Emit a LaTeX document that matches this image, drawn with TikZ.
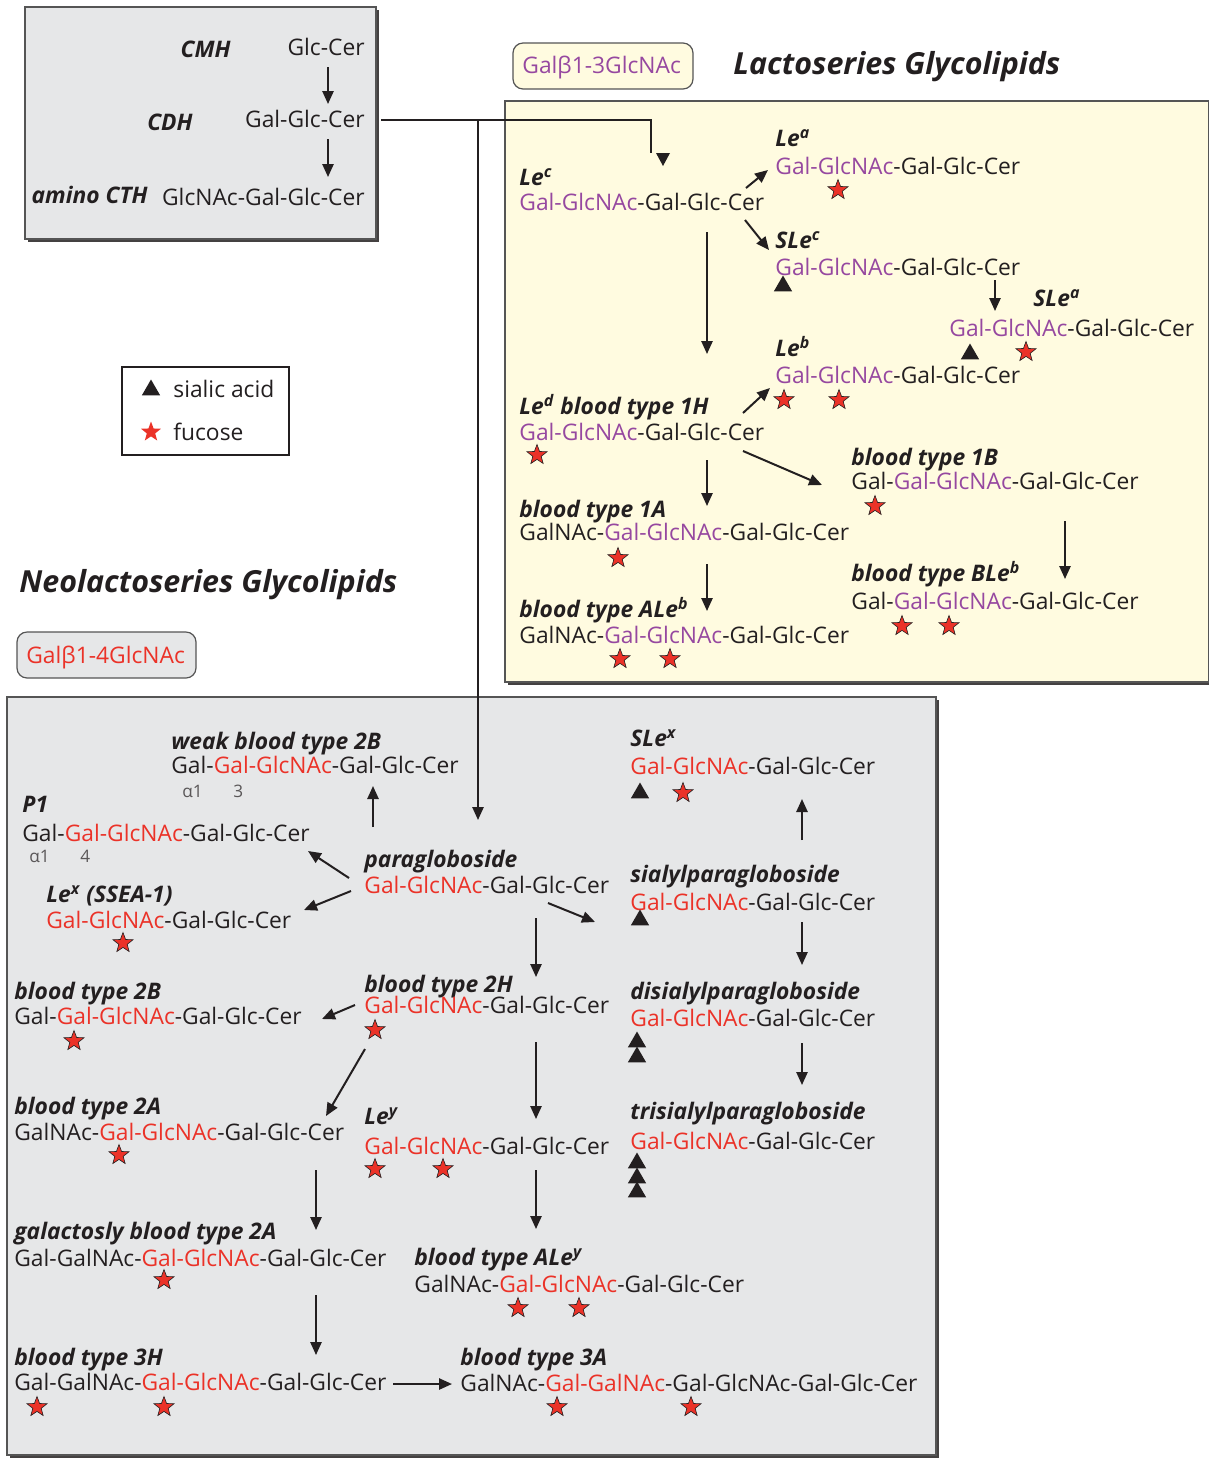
\documentclass[tikz,border=0pt]{standalone}
\usepackage{fontspec}
\setmainfont{Open Sans}
\usetikzlibrary{arrows.meta,shapes.geometric}
\definecolor{lpurple}{RGB}{150,72,160}
\definecolor{nred}{RGB}{235,50,40}
\definecolor{lyellow}{RGB}{255,251,224}
\definecolor{lgrey}{RGB}{230,231,232}
\definecolor{ink}{RGB}{35,31,32}
\definecolor{boxline}{RGB}{85,85,85}
\newcommand{\colP}[1]{\textcolor{lpurple}{#1}}
\newcommand{\colR}[1]{\textcolor{nred}{#1}}
\newcommand{\arw}[3]{\coordinate (#1s) at (#2); \coordinate (#1e) at (#3); \draw[arr] (#1s) -- (#1e);}
\begin{document}
\begin{tikzpicture}[x=0.5pt,y=-0.5pt,
  chain/.style={anchor=base west, yshift=-4pt, inner sep=0pt, text=ink, font=\fontsize{11.4}{13}\selectfont},
  chainr/.style={chain, anchor=base east},
  lbl/.style={chain, font=\fontsize{11.4}{13}\selectfont\bfseries\itshape},
  lblr/.style={lbl, anchor=base east},
  ttl/.style={anchor=base west, yshift=-5.4pt, inner sep=0pt, text=ink, font=\fontsize{15.2}{18}\selectfont\bfseries\itshape},
  lnk/.style={anchor=base west, yshift=-3pt, inner sep=0pt, text=ink!75, font=\fontsize{8.6}{10}\selectfont},
  arr/.style={draw=ink, line width=1pt, -{Triangle[length=6.5pt,width=5.6pt]}},
  fuc/.style={star, star points=5, star point ratio=2.4, fill=nred, draw=ink, line width=0.3pt, minimum size=10.5pt, inner sep=0pt},
  sia/.style={regular polygon, regular polygon sides=3, fill=ink, minimum size=10.5pt, inner sep=0pt},
  shadowbox/.style={fill=ink!85},
  panel/.style={draw=boxline, line width=0.6pt}
]
\useasboundingbox (0,0) rectangle (1209,1458);

% ---------- top-left box ----------
\fill[shadowbox] (28,10) rectangle (379,242);
\filldraw[panel, fill=lgrey] (25,7) rectangle (376,239);
\node[lblr] (cmh) at (231,49) {CMH};
\node[chainr] (glccer) at (365,47) {Glc-Cer};
\node[lblr] (cdh) at (193,122) {CDH};
\node[chainr] (galglccer) at (365,119) {Gal-Glc-Cer};
\node[lblr] (acth) at (148,195) {amino CTH};
\node[chainr] (amcth) at (365,197) {GlcNAc-Gal-Glc-Cer};
\arw{t1}{328,67}{328,104}
\arw{t2}{328,139}{328,177}

% ---------- lactoseries ----------
\draw[panel, fill=lyellow, rounded corners=5pt] (513,43) rectangle (693,89);
\node[chain, text=lpurple] (lacgal) at (522,65) {Galβ1-3GlcNAc};
\node[ttl] (lacttl) at (733,64) {Lactoseries Glycolipids};

\fill[shadowbox] (508,104) rectangle (1212,685);
\filldraw[panel, fill=lyellow] (505,101) rectangle (1209,682);

\node[lbl] (lecl) at (519,177) {Le\textsuperscript{c}};
\node[chain] (lec) at (519,202) {\colP{Gal-GlcNAc}-Gal-Glc-Cer};
\node[lbl] (leal) at (775,138) {Le\textsuperscript{a}};
\node[chain] (lea) at (775,166) {\colP{Gal-GlcNAc}-Gal-Glc-Cer};
\node[fuc] (f1) at (838,190) {};
\node[lbl] (slecl) at (775,240) {SLe\textsuperscript{c}};
\node[chain] (slec) at (775,267) {\colP{Gal-GlcNAc}-Gal-Glc-Cer};
\node[sia] (s1) at (783,286) {};
\node[lbl] (sleal) at (1033,298) {SLe\textsuperscript{a}};
\node[chain] (slea) at (949,328) {\colP{Gal-GlcNAc}-Gal-Glc-Cer};
\node[sia] (s2) at (970,354) {};
\node[fuc] (f2) at (1026,352) {};
\node[lbl] (lebl) at (775,348) {Le\textsuperscript{b}};
\node[chain] (leb) at (775,375) {\colP{Gal-GlcNAc}-Gal-Glc-Cer};
\node[fuc] (f3) at (784,400) {};
\node[fuc] (f4) at (839,400) {};
\node[lbl] (ledl) at (519,406) {Le\textsuperscript{d} blood type 1H};
\node[chain] (led) at (519,432) {\colP{Gal-GlcNAc}-Gal-Glc-Cer};
\node[fuc] (f5) at (537,455) {};
\node[lbl] (b1bl) at (851,457) {blood type 1B};
\node[chain] (b1b) at (851,481) {Gal-\colP{Gal-GlcNAc}-Gal-Glc-Cer};
\node[fuc] (f6) at (875,506) {};
\node[lbl] (b1al) at (519,509) {blood type 1A};
\node[chain] (b1a) at (519,532) {GalNAc-\colP{Gal-GlcNAc}-Gal-Glc-Cer};
\node[fuc] (f7) at (618,558) {};
\node[lbl] (aleb_l) at (519,609) {blood type ALe\textsuperscript{b}};
\node[chain] (aleb) at (519,635) {GalNAc-\colP{Gal-GlcNAc}-Gal-Glc-Cer};
\node[fuc] (f8) at (620,659) {};
\node[fuc] (f9) at (670,659) {};
\node[lbl] (bleb_l) at (851,573) {blood type BLe\textsuperscript{b}};
\node[chain] (bleb) at (851,601) {Gal-\colP{Gal-GlcNAc}-Gal-Glc-Cer};
\node[fuc] (f10) at (902,626) {};
\node[fuc] (f11) at (949,626) {};

\arw{l1}{746,188}{768,170}
\arw{l2}{745,220}{769,250}
\arw{l3}{995,280}{995,311}
\arw{l4}{707,232}{707,354}
\arw{l5}{743,413}{770,388}
\arw{l6}{743,451}{822,485}
\arw{l7}{707,460}{707,506}
\arw{l8}{707,564}{707,611}
\arw{l9}{1065,521}{1065,579}

% ---------- legend ----------
\filldraw[draw=ink, line width=0.8pt, fill=white] (122,367) rectangle (289,455);
\node[sia] (legs) at (151,390) {};
\node[chain] (legst) at (173,389) {sialic acid};
\node[fuc, draw=none] (legf) at (151,432) {};
\node[chain] (legft) at (173,432) {fucose};

% ---------- neolactoseries ----------
\node[ttl] (neottl) at (19,582) {Neolactoseries Glycolipids};
\draw[panel, fill=lgrey, rounded corners=5pt] (17,632) rectangle (196,678);
\node[chain, text=nred] (neogal) at (26,655) {Galβ1-4GlcNAc};

\fill[shadowbox] (10,700) rectangle (939,1458);
\filldraw[panel, fill=lgrey] (7,697) rectangle (936,1455);

\node[lbl] (w2bl) at (171,741) {weak blood type 2B};
\node[chain] (w2b) at (171,765) {Gal-\colR{Gal-GlcNAc}-Gal-Glc-Cer};
\node[lnk] (w2ba) at (182,791) {α1};
\node[lnk] (w2bb) at (233,791) {3};
\node[lbl] (p1l) at (22,804) {P1};
\node[chain] (p1) at (22,833) {Gal-\colR{Gal-GlcNAc}-Gal-Glc-Cer};
\node[lnk] (p1a) at (29,856) {α1};
\node[lnk] (p1b) at (80,856) {4};
\node[lbl] (lexl) at (46,894) {Le\textsuperscript{x} (SSEA-1)};
\node[chain] (lex) at (46,920) {\colR{Gal-GlcNAc}-Gal-Glc-Cer};
\node[fuc] (g1) at (123,943) {};
\node[lbl] (pgl) at (364,859) {paragloboside};
\node[chain] (pg) at (364,885) {\colR{Gal-GlcNAc}-Gal-Glc-Cer};
\node[lbl] (slexl) at (630,738) {SLe\textsuperscript{x}};
\node[chain] (slex) at (630,766) {\colR{Gal-GlcNAc}-Gal-Glc-Cer};
\node[sia] (t1) at (640,793) {};
\node[fuc] (g2) at (683,793) {};
\node[lbl] (spgl) at (630,874) {sialylparagloboside};
\node[chain] (spg) at (630,902) {\colR{Gal-GlcNAc}-Gal-Glc-Cer};
\node[sia] (t2) at (640,920) {};
\node[lbl] (dspgl) at (630,991) {disialylparagloboside};
\node[chain] (dspg) at (630,1018) {\colR{Gal-GlcNAc}-Gal-Glc-Cer};
\node[sia] (t3) at (637,1042) {};
\node[sia] (t4) at (637,1057) {};
\node[lbl] (tspgl) at (630,1111) {trisialylparagloboside};
\node[chain] (tspg) at (630,1141) {\colR{Gal-GlcNAc}-Gal-Glc-Cer};
\node[sia] (t5) at (637,1163) {};
\node[sia] (t6) at (637,1178) {};
\node[sia] (t7) at (637,1192) {};
\node[lbl] (b2hl) at (364,984) {blood type 2H};
\node[chain] (b2h) at (364,1005) {\colR{Gal-GlcNAc}-Gal-Glc-Cer};
\node[fuc] (g3) at (375,1030) {};
\node[lbl] (b2bl) at (14,991) {blood type 2B};
\node[chain] (b2b) at (14,1016) {Gal-\colR{Gal-GlcNAc}-Gal-Glc-Cer};
\node[fuc] (g4) at (74,1041) {};
\node[lbl] (b2al) at (14,1106) {blood type 2A};
\node[chain] (b2a) at (14,1132) {GalNAc-\colR{Gal-GlcNAc}-Gal-Glc-Cer};
\node[fuc] (g5) at (119,1155) {};
\node[lbl] (leyl) at (364,1116) {Le\textsuperscript{y}};
\node[chain] (ley) at (364,1146) {\colR{Gal-GlcNAc}-Gal-Glc-Cer};
\node[fuc] (g6) at (375,1169) {};
\node[fuc] (g7) at (443,1169) {};
\node[lbl] (g2al) at (14,1231) {galactosly blood type 2A};
\node[chain] (g2a) at (14,1258) {Gal-GalNAc-\colR{Gal-GlcNAc}-Gal-Glc-Cer};
\node[fuc] (g8) at (164,1280) {};
\node[lbl] (aleyl) at (414,1257) {blood type ALe\textsuperscript{y}};
\node[chain] (aley) at (414,1284) {GalNAc-\colR{Gal-GlcNAc}-Gal-Glc-Cer};
\node[fuc] (g9) at (518,1308) {};
\node[fuc] (g10) at (579,1308) {};
\node[lbl] (b3hl) at (14,1357) {blood type 3H};
\node[chain] (b3h) at (14,1382) {Gal-GalNAc-\colR{Gal-GlcNAc}-Gal-Glc-Cer};
\node[fuc] (g11) at (37,1407) {};
\node[fuc] (g12) at (164,1407) {};
\node[lbl] (b3al) at (460,1357) {blood type 3A};
\node[chain] (b3a) at (460,1383) {GalNAc-\colR{Gal-GalNAc}-Gal-GlcNAc-Gal-Glc-Cer};
\node[fuc] (g13) at (557,1407) {};
\node[fuc] (g14) at (691,1407) {};

\arw{n1}{373,827}{373,786}
\arw{n2}{349,878}{308,851}
\arw{n3}{351,891}{304,910}
\arw{n4}{548,903}{595,922}
\arw{n5}{536,918}{536,977}
\arw{n6}{802,840}{802,799}
\arw{n7}{802,922}{802,965}
\arw{n8}{802,1043}{802,1085}
\arw{n9}{355,1005}{322,1019}
\arw{n10}{365,1049}{326,1116}
\arw{n11}{536,1042}{536,1119}
\arw{n12}{536,1170}{536,1229}
\arw{n13}{316,1170}{316,1230}
\arw{n14}{316,1295}{316,1355}
\arw{n15}{393,1384}{452,1384}

% ---------- connector from lactosylceramide ----------
\coordinate (cstart) at (381,120);
\coordinate (jct) at (478,120);
\coordinate (cbend) at (651,120);
\coordinate (cend) at (651,153);
\coordinate (pgtip) at (478,820);
\draw[ink, line width=1pt] (cstart) -- (cbend) -- (cend);
\draw[arr] (jct) -- (pgtip);
\fill[ink] (656,153) -- (670,153) -- (663,166) -- cycle;
\end{tikzpicture}
\end{document}
